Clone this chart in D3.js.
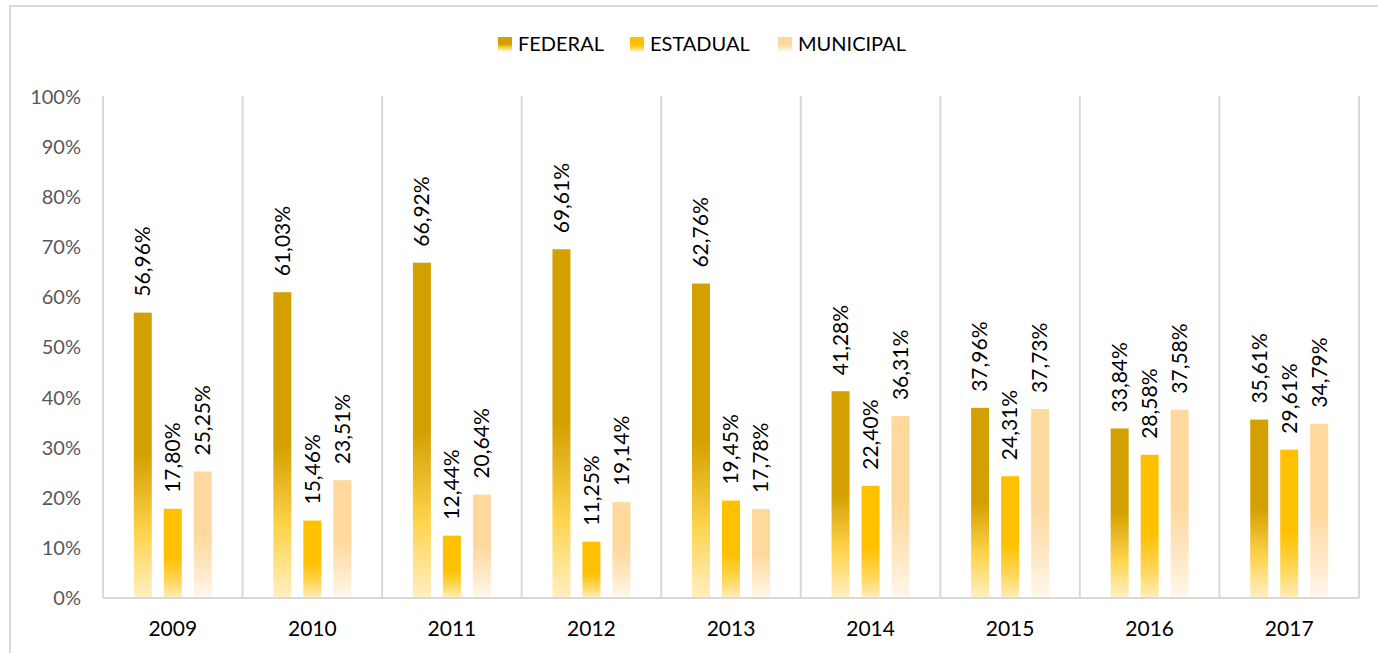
<!DOCTYPE html>
<html>
<head>
<meta charset="utf-8">
<script src="https://cdn.jsdelivr.net/npm/d3@7"></script>
<style>
  body { margin: 0; background: #fff; }
  text { font-family: Lato, "Open Sans", sans-serif; }
</style>
</head>
<body>
<div id="chart-area"></div>
<script>
var years = ["2009", "2010", "2011", "2012", "2013", "2014", "2015", "2016", "2017"];
var seriesNames = ["FEDERAL", "ESTADUAL", "MUNICIPAL"];
var federal   = [56.96, 61.03, 66.92, 69.61, 62.76, 41.28, 37.96, 33.84, 35.61];
var estadual  = [17.80, 15.46, 12.44, 11.25, 19.45, 22.40, 24.31, 28.58, 29.61];
var municipal = [25.25, 23.51, 20.64, 19.14, 17.78, 36.31, 37.73, 37.58, 34.79];
var yTicks = [0, 10, 20, 30, 40, 50, 60, 70, 80, 90, 100];

// gradient stops per series (solid on top, fading at the base)
var gradStops = [
  [[0, "#D4A000"], [0.5, "#D4A000"], [0.78, "#FFD44F"], [1, "#FFEFC2"]],
  [[0, "#FFC000"], [0.55, "#FFC000"], [0.82, "#FFD75A"], [1, "#FFEDB8"]],
  [[0, "#FFD89D"], [0.5, "#FFD89D"], [0.8, "#FFE9C8"], [1, "#FFF7EC"]]
];

var total_width = 1378, total_height = 653;

var svg = d3.select("#chart-area").append("svg")
            .attr("width", total_width)
            .attr("height", total_height);

// outer chart border
svg.append("rect")
   .attr("x", 10).attr("y", 6)
   .attr("width", 1380).attr("height", 660)
   .attr("fill", "none")
   .attr("stroke", "#D9D9D9")
   .attr("stroke-width", 2);

var defs = svg.append("defs");
gradStops.forEach(function(stops, i) {
  var g = defs.append("linearGradient")
              .attr("id", "grad" + i)
              .attr("x1", 0).attr("y1", 0).attr("x2", 0).attr("y2", 1);
  stops.forEach(function(s) {
    g.append("stop").attr("offset", s[0]).attr("stop-color", s[1]);
  });
});

var margin = {left: 103, right: 1359, top: 97, bottom: 598};

var x = d3.scaleBand().domain(years).range([margin.left, margin.right]);
var xs = d3.scaleBand().domain(seriesNames).range([-39, 39]).paddingInner(0.4);
var y = d3.scaleLinear().domain([0, 100]).range([margin.bottom, margin.top]);

// vertical gridlines at category boundaries
var bounds = years.map(function(d) { return x(d); }).concat([margin.right]);
svg.append("g").selectAll("line").data(bounds).enter().append("line")
   .attr("x1", function(d) { return d; })
   .attr("x2", function(d) { return d; })
   .attr("y1", y(100) - 1)
   .attr("y2", y(0))
   .attr("stroke", "#D9D9D9")
   .attr("stroke-width", 2);

// baseline
svg.append("line")
   .attr("x1", margin.left).attr("x2", margin.right)
   .attr("y1", y(0)).attr("y2", y(0))
   .attr("stroke", "#D9D9D9").attr("stroke-width", 2);

// y axis labels
var yAxis = d3.axisLeft(y).tickValues(yTicks).tickSize(0).tickPadding(0)
              .tickFormat(function(d) { return d + "%"; });
var yg = svg.append("g").attr("transform", "translate(81,0)").call(yAxis);
yg.select(".domain").remove();
yg.selectAll("text")
  .attr("font-family", "Lato, sans-serif")
  .attr("font-size", "20px")
  .attr("fill", "#595959");

// x axis labels
var xAxis = d3.axisBottom(x).tickSize(0).tickPadding(0);
var xg = svg.append("g").attr("transform", "translate(0,621)").call(xAxis);
xg.select(".domain").remove();
xg.selectAll("text")
  .attr("font-family", "Lato, sans-serif")
  .attr("font-size", "21px")
  .attr("fill", "#000");

var allSeries = [federal, estadual, municipal];
var fmt = function(v) { return v.toFixed(2).replace(".", ",") + "%"; };

allSeries.forEach(function(vals, si) {
  var g = svg.append("g");
  var rows = years.map(function(yr, i) { return {year: yr, v: vals[i]}; });
  var cx = function(d) { return x(d.year) + x.bandwidth() / 2 + xs(seriesNames[si]); };

  g.selectAll("rect").data(rows).enter().append("rect")
   .attr("x", cx)
   .attr("y", function(d) { return y(d.v); })
   .attr("width", xs.bandwidth())
   .attr("height", function(d) { return y(0) - y(d.v) - 1; })
   .attr("fill", "url(#grad" + si + ")");

  g.selectAll("text").data(rows).enter().append("text")
   .attr("transform", function(d) {
     return "translate(" + (cx(d) + xs.bandwidth() / 2) + "," + (y(d.v) - 16) + ") rotate(-90)";
   })
   .attr("dy", "0.35em")
   .attr("text-anchor", "start")
   .attr("font-size", "21px")
   .attr("fill", "#000")
   .text(function(d) { return fmt(d.v); });
});

// legend
var legendX = [498, 630, 778];
var legend = svg.append("g").selectAll("g").data(seriesNames).enter().append("g")
   .attr("transform", function(d, i) { return "translate(" + legendX[i] + ",37)"; });
legend.append("rect")
   .attr("width", 14).attr("height", 14)
   .attr("fill", function(d, i) { return "url(#grad" + i + ")"; });
legend.append("text")
   .attr("x", 20).attr("y", 7).attr("dy", "0.35em")
   .attr("font-size", "20px")
   .attr("fill", "#000")
   .text(function(d) { return d; });
</script>
</body>
</html>
